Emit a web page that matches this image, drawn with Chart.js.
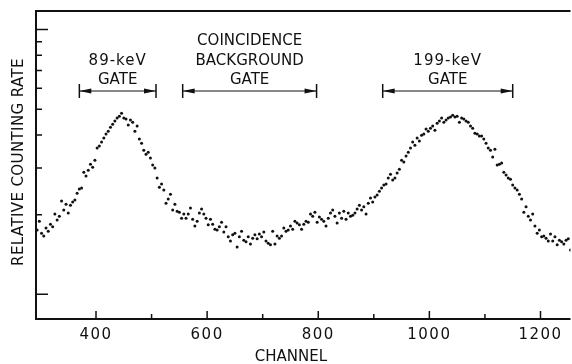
<!DOCTYPE html>
<html>
<head>
<meta charset="utf-8">
<script src="https://cdn.jsdelivr.net/npm/chart.js@4.4.0/dist/chart.umd.min.js"></script>
<style>
  html, body { margin: 0; padding: 0; background: #fff; }
  #chart { display: block; }
</style>
</head>
<body>
<canvas id="chart" width="572" height="364"></canvas>
<script>
// spectrum: one point every 4 channels, starting at channel 294
const channelStart = 294;
const channelStep = 4;
const countingRate = [
  1.75, 1.89, 1.70, 1.66, 1.78, 1.73, 1.84, 1.80, 2.01, 1.91,
  1.97, 2.25, 2.08, 2.19, 2.03, 2.17, 2.23, 2.27, 2.41, 2.50,
  2.52, 2.89, 2.80, 2.94, 3.10, 3.02, 3.21, 3.57, 3.63, 3.76,
  3.89, 4.03, 4.13, 4.28, 4.39, 4.51, 4.63, 4.71, 4.83, 4.63,
  4.59, 4.36, 4.55, 4.47, 4.13, 4.32, 3.86, 3.72, 3.50, 3.38,
  3.44, 3.27, 3.08, 3.00, 2.75, 2.54, 2.61, 2.48, 2.21, 2.29,
  2.39, 2.08, 2.19, 2.06, 2.04, 1.94, 2.01, 1.94, 2.01, 2.12,
  1.92, 1.81, 1.89, 2.03, 2.10, 2.01, 1.94, 1.83, 1.92, 1.84,
  1.76, 1.75, 1.80, 1.87, 1.72, 1.80, 1.65, 1.59, 1.68, 1.70,
  1.51, 1.65, 1.73, 1.60, 1.58, 1.65, 1.55, 1.63, 1.68, 1.62,
  1.69, 1.65, 1.72, 1.59, 1.56, 1.54, 1.73, 1.55, 1.66, 1.63,
  1.66, 1.78, 1.73, 1.75, 1.81, 1.76, 1.89, 1.86, 1.83, 1.76,
  1.84, 1.89, 1.87, 2.01, 1.97, 2.04, 1.87, 1.96, 1.92, 1.89,
  1.81, 1.94, 2.03, 2.08, 1.97, 1.86, 2.03, 1.94, 2.06, 1.92,
  2.03, 1.97, 1.99, 2.03, 2.10, 2.17, 2.08, 2.14, 2.01, 2.21,
  2.31, 2.23, 2.33, 2.37, 2.45, 2.52, 2.59, 2.61, 2.75, 2.84,
  2.70, 2.75, 2.87, 2.97, 3.21, 3.16, 3.33, 3.44, 3.57, 3.76,
  3.66, 3.89, 3.79, 3.99, 4.03, 4.21, 4.13, 4.24, 4.32, 4.17,
  4.43, 4.51, 4.63, 4.47, 4.55, 4.63, 4.67, 4.75, 4.67, 4.71,
  4.47, 4.63, 4.59, 4.51, 4.47, 4.32, 4.24, 4.06, 4.03, 3.96,
  3.96, 3.86, 3.72, 3.57, 3.50, 3.30, 3.53, 3.08, 3.10, 3.13,
  2.89, 2.82, 2.75, 2.72, 2.59, 2.52, 2.48, 2.39, 2.29, 2.04,
  2.14, 1.97, 1.91, 2.01, 1.81, 1.70, 1.75, 1.65, 1.66, 1.63,
  1.59, 1.69, 1.59, 1.65, 1.54, 1.60, 1.58, 1.55, 1.60, 1.62,
  1.47
];

const xTickLabels = [400, 600, 800, 1000, 1200];
const xMinorTicks = [500, 700, 900, 1100];
const yTicks = [1, 2, 3, 4, 5, 6, 7, 8, 9, 10];
const yLongTicks = [1, 10];

const gateLabels = [['89-keV', 'GATE'], ['COINCIDENCE', 'BACKGROUND', 'GATE'], ['199-keV', 'GATE']];
const gateStart = [370, 556, 916];
const gateEnd = [508, 797, 1150];

const ink = '#111';
const font = '15px "DejaVu Sans", sans-serif';

const points = countingRate.map((v, i) => ({ x: channelStart + i * channelStep, y: v }));

function arrowHead(ctx, tipX, y, dir) {
  ctx.beginPath();
  ctx.moveTo(tipX, y);
  ctx.lineTo(tipX + dir * 12, y - 2.5);
  ctx.lineTo(tipX + dir * 12, y + 2.5);
  ctx.closePath();
  ctx.fill();
}

const frame = {
  id: 'frame',
  afterDatasetsDraw(chart) {
    const { ctx, chartArea: a, scales: { x, y } } = chart;
    ctx.save();
    ctx.strokeStyle = ink;
    ctx.fillStyle = ink;

    // box: top, left, bottom
    ctx.lineWidth = 2;
    ctx.beginPath();
    ctx.moveTo(a.right, a.top);
    ctx.lineTo(a.left, a.top);
    ctx.lineTo(a.left, a.bottom);
    ctx.lineTo(a.right, a.bottom);
    ctx.stroke();

    // x ticks point up into the plot
    ctx.lineWidth = 1.5;
    ctx.beginPath();
    xTickLabels.forEach(v => {
      const px = x.getPixelForValue(v);
      ctx.moveTo(px, a.bottom);
      ctx.lineTo(px, a.bottom - 8);
    });
    xMinorTicks.forEach(v => {
      const px = x.getPixelForValue(v);
      ctx.moveTo(px, a.bottom);
      ctx.lineTo(px, a.bottom - 5);
    });
    // y ticks point right
    yTicks.forEach(v => {
      const py = y.getPixelForValue(v);
      const len = yLongTicks.includes(v) ? 12 : 6;
      ctx.moveTo(a.left, py);
      ctx.lineTo(a.left + len, py);
    });
    ctx.stroke();

    ctx.font = font;
    ctx.textAlign = 'center';
    ctx.textBaseline = 'middle';
    ctx.letterSpacing = '1.5px';
    xTickLabels.forEach(v => {
      ctx.fillText(String(v), x.getPixelForValue(v), a.bottom + 16);
    });
    ctx.letterSpacing = '0px';
    ctx.fillText('CHANNEL', a.left + 255, a.bottom + 38);

    ctx.save();
    ctx.translate(19, 162);
    ctx.rotate(-Math.PI / 2);
    ctx.letterSpacing = '0.4px';
    ctx.fillText('RELATIVE COUNTING RATE', 0, 0);
    ctx.restore();

    // gate markers
    const lineY = a.top + 80;
    gateLabels.forEach((lines, i) => {
      const x0 = x.getPixelForValue(gateStart[i]);
      const x1 = x.getPixelForValue(gateEnd[i]);
      ctx.lineWidth = 1.5;
      ctx.beginPath();
      ctx.moveTo(x0, lineY - 7);
      ctx.lineTo(x0, lineY + 7);
      ctx.moveTo(x1, lineY - 7);
      ctx.lineTo(x1, lineY + 7);
      ctx.stroke();
      ctx.lineWidth = 1;
      ctx.beginPath();
      ctx.moveTo(x0, lineY);
      ctx.lineTo(x1, lineY);
      ctx.stroke();
      arrowHead(ctx, x0, lineY, 1);
      arrowHead(ctx, x1, lineY, -1);
      const cx = (x0 + x1) / 2;
      lines.forEach((t, j) => {
        const ty = lineY - 10.5 - (lines.length - 1 - j) * 19.5;
        ctx.letterSpacing = /\d/.test(t) ? '1px' : '0px';
        ctx.fillText(t, cx, ty);
      });
    });
    ctx.restore();
  }
};

new Chart(document.getElementById('chart'), {
  type: 'scatter',
  data: {
    datasets: [{
      data: points,
      pointRadius: 1.5,
      pointBorderWidth: 0,
      pointBackgroundColor: ink,
      pointHoverRadius: 1.5
    }]
  },
  options: {
    responsive: false,
    animation: false,
    devicePixelRatio: 1,
    layout: { padding: { left: 36, top: 11, right: 0, bottom: 45 } },
    scales: {
      x: { type: 'linear', min: 292, max: 1254, display: false },
      y: { type: 'logarithmic', min: 0.807, max: 11.75, display: false }
    },
    plugins: {
      legend: { display: false },
      tooltip: { enabled: false }
    }
  },
  plugins: [frame]
});
</script>
</body>
</html>
